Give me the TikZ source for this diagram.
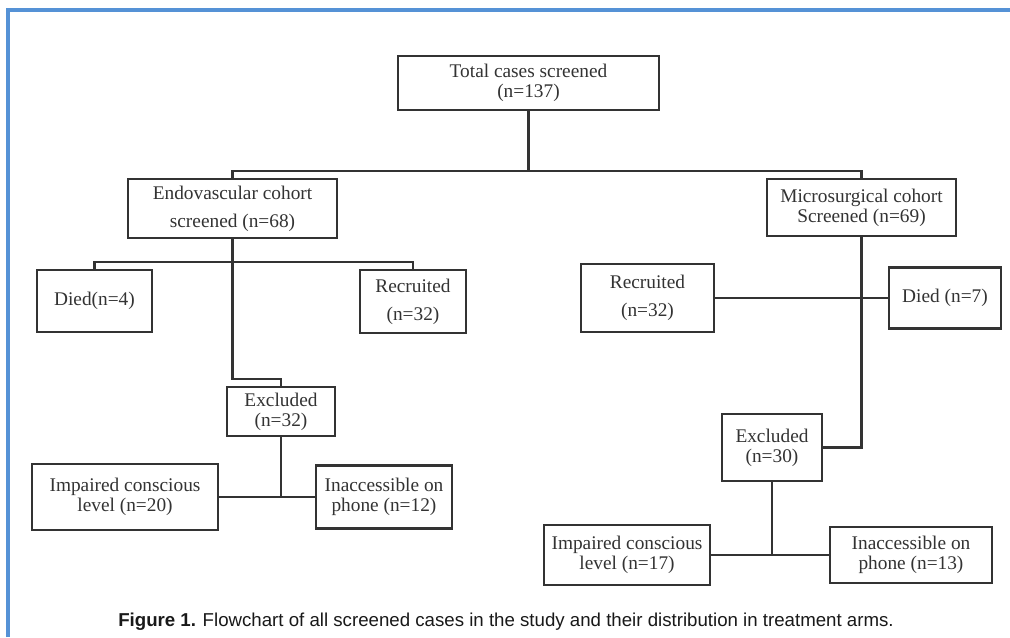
\documentclass[tikz,border=0pt]{standalone}
\usepackage{fontspec}
\setmainfont{Liberation Serif}
\newfontfamily\capfont{Liberation Sans}
\definecolor{frameblue}{HTML}{5592D6}
\definecolor{ink}{HTML}{333333}
\begin{document}
\begin{tikzpicture}[x=0.75pt,y=-0.75pt,
  box/.style={draw=ink,line width=1.6pt,rectangle,align=center,inner sep=0pt,
    text=ink,font=\fontsize{14.5}{15}\selectfont},
  tall/.style={font=\fontsize{14.5}{21}\selectfont},
  link/.style={draw=ink,line width=1.6pt}]
\useasboundingbox (0,0) rectangle (1010,637);
\fill[white] (0,0) rectangle (1010,637);
\draw[frameblue,line width=2.4pt] (8,637) -- (8,10) -- (1010,10);

\node[box,minimum width=195.75pt,minimum height=40.5pt] (total) at (528.5,83) {Total cases screened\\(n=137)};
\node[box,tall,minimum width=156.75pt,minimum height=44.25pt] (endo) at (232.5,208.5) {Endovascular cohort\\screened (n=68)};
\node[box,minimum width=141.75pt,minimum height=42.75pt] (micro) at (861.5,207.5) {Microsurgical cohort\\Screened (n=69)};
\node[box,minimum width=86.25pt,minimum height=46.5pt] (died1) at (94.5,301) {Died(n=4)};
\node[box,tall,minimum width=79.5pt,minimum height=47.25pt] (recr1) at (413,301.5) {Recruited\\(n=32)};
\node[box,minimum width=81pt,minimum height=36.75pt] (excl1) at (281,411.5) {Excluded\\(n=32)};
\node[box,minimum width=139.5pt,minimum height=49.5pt] (imp1) at (125,497) {Impaired conscious\\level (n=20)};
\node[box,minimum width=102pt,minimum height=47.25pt] (inacc1) at (384,497) {Inaccessible on\\phone (n=12)};
\node[box,tall,minimum width=99.75pt,minimum height=51pt] (recr2) at (647.5,298) {Recruited\\(n=32)};
\node[box,minimum width=84pt,minimum height=45.75pt] (died2) at (945,298) {Died (n=7)};
\node[box,minimum width=75pt,minimum height=50.25pt] (excl2) at (772,447.5) {Excluded\\(n=30)};
\node[box,minimum width=124.5pt,minimum height=45pt] (imp2) at (627,555) {Impaired conscious\\level (n=17)};
\node[box,minimum width=121.5pt,minimum height=42pt] (inacc2) at (911,555) {Inaccessible on\\phone (n=13)};

\coordinate (j1) at (528.5,171);
\coordinate (j2) at (232.5,262);
\coordinate (j3) at (232.5,379);
\coordinate (j4) at (281,497);
\coordinate (j6) at (772,555);

\draw[link] (total.south) -- (j1);
\draw[link] (endo.north) |- (j1) -| (micro.north);
\draw[link] (endo.south) -- (j2) -- (j3) -| (excl1.north);
\draw[link] (died1.north) |- (j2) -| (recr1.north);
\draw[link] (excl1.south) -- (j4);
\draw[link] (imp1.east) -- (inacc1.west);
\draw[link] (micro.south) |- (excl2.east);
\draw[link] (recr2.east) -- (died2.west);
\draw[link] (excl2.south) -- (j6);
\draw[link] (imp2.east) -- (inacc2.west);

\node[anchor=base west,inner sep=0pt,font=\capfont\fontsize{14}{16}\selectfont,text=black!90] (cap) at (118,626)
  {{\bfseries Figure 1.}\hspace{5pt}Flowchart of all screened cases in the study and their distribution in treatment arms.};
\end{tikzpicture}
\end{document}
